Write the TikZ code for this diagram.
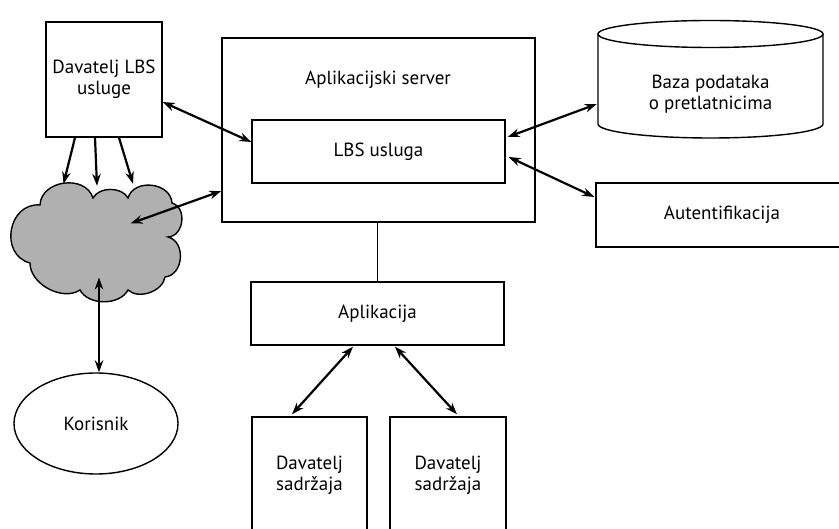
\documentclass[tikz,border=0pt]{standalone}
\usepackage{fontspec}
\setmainfont{PT Sans}
\usetikzlibrary{shapes.geometric,arrows.meta,calc}
\definecolor{cloudgray}{RGB}{176,176,176}
\tikzset{
  box/.style={draw, line width=1.4pt, fill=white, align=center, inner sep=0pt},
  link/.style={line width=2.2pt},
  puff/.style={bend left=80, looseness=1.2},
  smallpuff/.style={bend left=62, looseness=0.95},
  bigpuff/.style={bend left=85, looseness=1.4},
}
\begin{document}
\begin{tikzpicture}[x=1pt,y=-1pt,font=\fontsize{19}{21}\selectfont,
                    >={Stealth[length=12pt,width=8.5pt]}]
                    \clip (0,0) rectangle (839,529);
                    \node[box, minimum width=116pt, minimum height=115pt] (dlbs) at (104,79.5) {Davatelj LBS\\usluge};
                    \node[box, minimum width=313pt, minimum height=184pt] (srv) at (378.5,130) {};
                    \node (srvlbl) at (378,80) {Aplikacijski server};
                    \node[box, minimum width=253pt, minimum height=63pt] (lbs) at (378.5,151.5) {LBS usluga};
                    % baza kao valjak
                    \draw[line width=1.4pt] (598,34) -- (598,124) arc[start angle=180, end angle=0, x radius=112.5, y radius=14] -- (823,34);
                    \draw[line width=1.4pt] (710.5,34) ellipse [x radius=112.5, y radius=13.5];
                    \node[minimum width=225pt, minimum height=117pt] (db) at (710.5,79.5) {};
                    \node[align=center] (dblbl) at (710.5,94) {Baza podataka\\o pretlatnicima};
                    \node[box, minimum width=252pt, minimum height=64pt] (auth) at (722,215) {};
                    \node (authlbl) at (722,215) {Autentifikacija};
                    % oblak (mreza)
                    \draw[line width=1.4pt, fill=cloudgray] (40,205) to[puff] (93,198) to[smallpuff] (128,198) to[puff] (172,203)
                          to[puff] (168,237) to[puff] (165,277) to[smallpuff] (128,290) to[smallpuff] (80,290)
                          to[smallpuff] (30,263) to[bigpuff] (40,205) -- cycle;
                    \node[minimum width=167pt, minimum height=115pt] (net) at (96.5,240.5) {};
                    \node[ellipse, draw, line width=1.4pt, minimum width=164pt, minimum height=101pt] (kor) at (96,423.5) {Korisnik};
                    \node[box, minimum width=253pt, minimum height=63pt] (app) at (377.5,313.5) {Aplikacija};
                    \node[box, minimum width=115pt, minimum height=116pt] (sad1) at (309.5,475) {Davatelj\\sadržaja};
                    \node[box, minimum width=116pt, minimum height=116pt] (sad2) at (448,475) {Davatelj\\sadržaja};
                    % veze
                    \draw[link,<->] ($(dlbs.east)+(0,22.5)$) -- ($(lbs.west)+(0,-9.5)$);
                    \draw[link,->] ($(dlbs.south)+(-29,0)$) -- ($(net.north)+(-33,1)$);
                    \draw[link,->] ($(dlbs.south)+(-9,0)$) -- ($(net.north)+(0.5,3)$);
                    \draw[link,->] ($(dlbs.south)+(15,0)$) -- ($(net.north)+(36.5,1)$);
                    \draw[link,<->] ($(net.center)+(34,-17)$) -- ($(srv.west)+(0,61)$);
                    \draw[link,<->] ($(net.center)+(2.5,37)$) -- ($(kor.north)+(3,0)$);
                    \draw[link,<->] ($(lbs.east)+(2,-14.5)$) -- ($(db.west)+(-1,24.5)$);
                    \draw[link,<->] ($(lbs.east)+(3,5.5)$) -- ($(auth.west)+(-1,-18)$);
                    \draw[line width=1.4pt] (app.north) -- (app.north |- srv.south);
                    \draw[link,<->] ($(app.south)+(-24.5,1)$) -- ($(sad1.north)+(-17.5,-2)$);
                    \draw[link,<->] ($(app.south)+(17.5,1)$) -- ($(sad2.north)+(9,-2)$);
\end{tikzpicture}
\end{document}
